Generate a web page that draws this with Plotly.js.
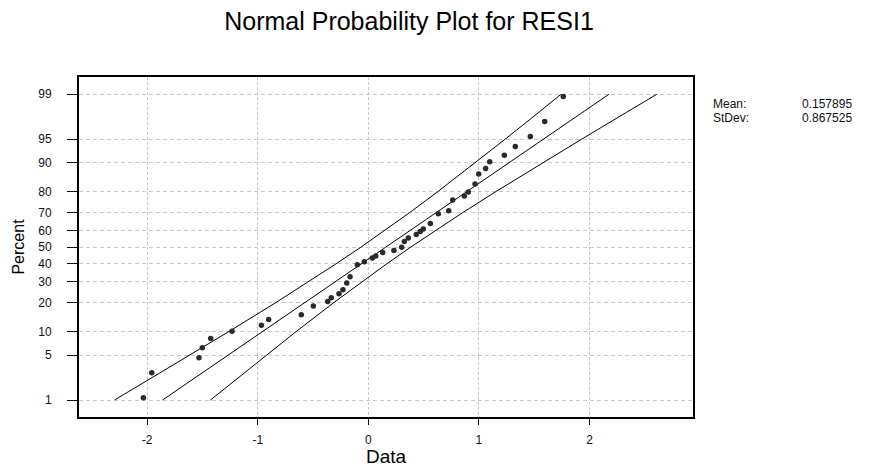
<!DOCTYPE html>
<html>
<head>
<meta charset="utf-8">
<script src="https://cdn.plot.ly/plotly-3.0.1.min.js"></script>
<style>
  html, body { margin: 0; padding: 0; background: #ffffff; }
  #chart { width: 870px; height: 467px; }
</style>
</head>
<body>
<div id="chart"></div>
<script>
// ---- data ----
const residuals = [1.763, 1.595, 1.465, 1.329, 1.230, 1.098, 1.061, 0.998, 0.965, 0.904,
  0.868, 0.763, 0.727, 0.633, 0.561, 0.497, 0.470, 0.434, 0.362, 0.326,
  0.302, 0.232, 0.130, 0.067, 0.036, -0.036, -0.099, -0.165, -0.195, -0.229,
  -0.265, -0.335, -0.367, -0.497, -0.606, -0.901, -0.967, -1.232, -1.425, -1.501,
  -1.531, -1.958, -2.034];
const percents = [98.9, 97.2, 95.4, 93.7, 91.9, 90.3, 88.4, 86.7, 83.2, 79.9,
  78.2, 76.3, 71.0, 69.4, 64.0, 60.8, 59.4, 57.6, 55.6, 53.4,
  50.0, 47.9, 46.7, 44.7, 43.4, 41.2, 39.4, 32.6, 29.2, 25.8,
  23.9, 22.0, 20.4, 18.5, 15.2, 13.5, 11.7, 10.0, 8.2, 6.3,
  4.6, 2.8, 1.1];

const fitPercents = [1, 99];
const fitValues = [-1.860, 2.176];

const bandPercents = [1, 2, 5, 10, 20, 30, 40, 50, 60, 70, 80, 90, 95, 98, 99];
const bandLower = [-2.294, -2.021, -1.615, -1.258, -0.834, -0.537, -0.291, -0.067, 0.149, 0.373, 0.626, 0.966, 1.239, 1.543, 1.743];
const bandUpper = [-1.427, -1.227, -0.924, -0.650, -0.310, -0.057, 0.167, 0.383, 0.607, 0.853, 1.150, 1.574, 1.931, 2.337, 2.609];

const percentTicks = [1, 5, 10, 20, 30, 40, 50, 60, 70, 80, 90, 95, 99];
const xTicks = [-2, -1, 0, 1, 2];

const statLabels = ["Mean:", "StDev:"];
const statValues = ["0.157895", "0.867525"];

// ---- normal probability scale (inverse normal CDF, Acklam) ----
function probit(pct) {
  const p = pct / 100;
  const a = [-3.969683028665376e+01, 2.209460984245205e+02, -2.759285104469687e+02, 1.383577518672690e+02, -3.066479806614716e+01, 2.506628277459239e+00];
  const b = [-5.447609879822406e+01, 1.615858368580409e+02, -1.556989798598866e+02, 6.680131188771972e+01, -1.328068155288572e+01];
  const c = [-7.784894002430293e-03, -3.223964580411365e-01, -2.400758277161838e+00, -2.549732539343734e+00, 4.374664141464968e+00, 2.938163982698783e+00];
  const d = [7.784695709041462e-03, 3.224671290700398e-01, 2.445134137142996e+00, 3.754408661907416e+00];
  const pl = 0.02425, ph = 1 - pl;
  let q, r;
  if (p < pl) {
    q = Math.sqrt(-2 * Math.log(p));
    return (((((c[0]*q+c[1])*q+c[2])*q+c[3])*q+c[4])*q+c[5]) / ((((d[0]*q+d[1])*q+d[2])*q+d[3])*q+1);
  } else if (p <= ph) {
    q = p - 0.5; r = q * q;
    return (((((a[0]*r+a[1])*r+a[2])*r+a[3])*r+a[4])*r+a[5])*q / (((((b[0]*r+b[1])*r+b[2])*r+b[3])*r+b[4])*r+1);
  } else {
    q = Math.sqrt(-2 * Math.log(1 - p));
    return -(((((c[0]*q+c[1])*q+c[2])*q+c[3])*q+c[4])*q+c[5]) / ((((d[0]*q+d[1])*q+d[2])*q+d[3])*q+1);
  }
}

const FONT = "Arial, 'Liberation Sans', sans-serif";
const lineStyle = { color: "#000000", width: 1 };

const traces = [
  { type: "scatter", mode: "lines", x: bandLower, y: bandPercents.map(probit), line: lineStyle, hoverinfo: "skip" },
  { type: "scatter", mode: "lines", x: fitValues, y: fitPercents.map(probit), line: lineStyle, hoverinfo: "skip" },
  { type: "scatter", mode: "lines", x: bandUpper, y: bandPercents.map(probit), line: lineStyle, hoverinfo: "skip" },
  { type: "scatter", mode: "markers", x: residuals, y: percents.map(probit),
    customdata: percents,
    marker: { symbol: "circle", size: 5.5, color: "#2a2a2a" },
    hovertemplate: "%{x}<br>%{customdata}%<extra></extra>" }
];

const plotLeft = 79, plotRight = 693, plotTop = 77, plotBottom = 417;
const pw = plotRight - plotLeft, ph = plotBottom - plotTop;

const annotations = [];
const statY = [104, 118];
statLabels.forEach((t, i) => {
  annotations.push({ text: t, xref: "paper", yref: "paper",
    x: (711 - plotLeft) / pw, y: (plotBottom - statY[i]) / ph,
    xanchor: "left", yanchor: "middle", showarrow: false,
    font: { family: FONT, size: 12, color: "#111" } });
  annotations.push({ text: statValues[i], xref: "paper", yref: "paper",
    x: (800 - plotLeft) / pw, y: (plotBottom - statY[i]) / ph,
    xanchor: "left", yanchor: "middle", showarrow: false,
    font: { family: FONT, size: 12, color: "#111" } });
});

const layout = {
  width: 870, height: 467,
  paper_bgcolor: "#ffffff", plot_bgcolor: "#ffffff",
  margin: { l: plotLeft, r: 870 - plotRight, t: plotTop, b: 467 - plotBottom, pad: 0 },
  showlegend: false,
  title: { text: "Normal Probability Plot for RESI1", x: 409 / 870, xanchor: "center",
    y: 1 - 21 / 467, yanchor: "middle", font: { family: FONT, size: 25, color: "#000" } },
  xaxis: {
    range: [-2.616, 2.936], tickvals: xTicks, ticktext: xTicks.map(String),
    ticks: "outside", ticklen: 6, tickwidth: 1, tickcolor: "#000",
    ticklabelstandoff: 5,
    showline: true, linecolor: "#000", linewidth: 2, mirror: true,
    showgrid: true, gridcolor: "#c8c8c8", gridwidth: 1, griddash: "3px,2px",
    zeroline: false, tickfont: { family: FONT, size: 12, color: "#111" },
    title: { text: "Data", standoff: 9, font: { family: FONT, size: 19, color: "#000" } },
    fixedrange: true
  },
  yaxis: {
    range: [-2.585, 2.589], tickvals: percentTicks.map(probit), ticktext: percentTicks.map(String),
    ticks: "outside", ticklen: 10, tickwidth: 1, tickcolor: "#000",
    ticklabelstandoff: 13,
    showline: true, linecolor: "#000", linewidth: 2, mirror: true,
    showgrid: true, gridcolor: "#c8c8c8", gridwidth: 1, griddash: "4px,3px",
    zeroline: false, tickfont: { family: FONT, size: 12, color: "#111" },
    title: { text: "Percent", standoff: 10, font: { family: FONT, size: 16, color: "#000" } },
    fixedrange: true
  },
  annotations: annotations
};

Plotly.newPlot("chart", traces, layout, { displayModeBar: false, staticPlot: false });
</script>
</body>
</html>
